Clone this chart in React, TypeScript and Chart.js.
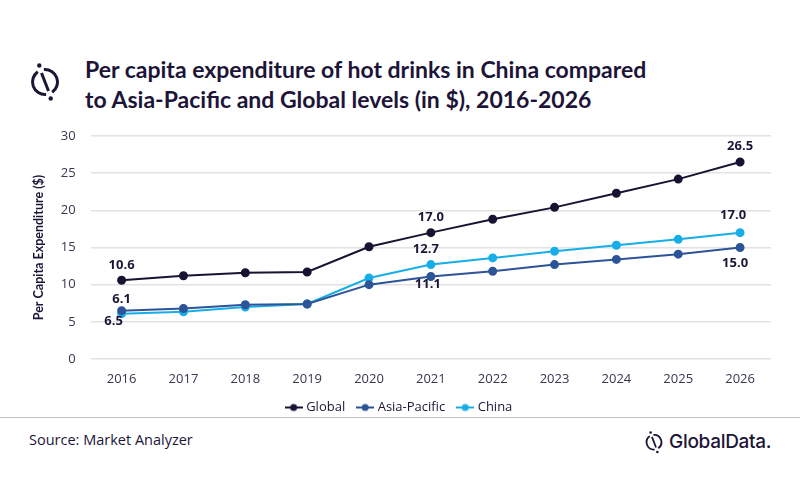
import React, { useEffect, useRef } from "react";
import { Chart, registerables } from "chart.js";

Chart.register(...registerables);

// ---- data ----
const years = ["2016", "2017", "2018", "2019", "2020", "2021", "2022", "2023", "2024", "2025", "2026"];
const seriesNames = ["Global", "Asia-Pacific", "China"];
const globalValues = [10.6, 11.2, 11.6, 11.7, 15.1, 17.0, 18.8, 20.4, 22.3, 24.2, 26.5];
const asiaPacificValues = [6.5, 6.8, 7.3, 7.4, 10.0, 11.1, 11.8, 12.7, 13.4, 14.1, 15.0];
const chinaValues = [6.1, 6.35, 7.0, 7.4, 10.9, 12.7, 13.6, 14.5, 15.3, 16.1, 17.0];
const yMin = 0;
const yMax = 30;
const yStep = 5;
const labelledIndices = [0, 5, 10];

// ---- styles ----
const seriesColors = ["#1a1233", "#2c5497", "#17aee8"];
const textColor = "#1c1538";
const BASE_FONT = "'Open Sans', 'DejaVu Sans', sans-serif";
const TITLE_FONT = "Lato, 'Open Sans', sans-serif";

// label offsets (dx, dy) for each series relative to its point, for the labelled indices
const labelOffsets = [
  [[0, -15], [0, -15], [0, -16]],
  [[-8, 11], [-3, 8], [-5, 16]],
  [[0, -14], [-5, -15], [-7, -17]],
];

const valueLabelPlugin = {
  id: "valueLabels",
  afterDatasetsDraw(chart: any) {
    const ctx = chart.ctx;
    ctx.save();
    ctx.font = `bold 13px ${BASE_FONT}`;
    ctx.fillStyle = textColor;
    ctx.textAlign = "center";
    ctx.textBaseline = "middle";
    chart.data.datasets.forEach((ds: any, di: number) => {
      const meta = chart.getDatasetMeta(di);
      labelledIndices.forEach((idx, k) => {
        const el = meta.data[idx];
        if (!el) return;
        const [dx, dy] = labelOffsets[di][k];
        ctx.fillText(Number(ds.data[idx]).toFixed(1), el.x + dx, el.y + dy);
      });
    });
    ctx.restore();
  },
};

function makeMarker(color: string) {
  const c = document.createElement("canvas");
  c.width = 18;
  c.height = 10;
  const g = c.getContext("2d")!;
  g.strokeStyle = color;
  g.lineWidth = 2;
  g.beginPath();
  g.moveTo(0, 5);
  g.lineTo(18, 5);
  g.stroke();
  g.fillStyle = color;
  g.beginPath();
  g.arc(9, 5, 3.5, 0, Math.PI * 2);
  g.fill();
  return c;
}

function LogoIcon({ width, height, color }: { width: number; height: number; color: string }) {
  return (
    <svg width={width} height={height} viewBox="0 0 30 44" style={{ display: "block" }}>
      <path d="M 13.9 11.55 A 12.5 12.5 0 0 1 22.17 34.24" fill="none" stroke={color} strokeWidth="3" />
      <path d="M 16.09 36.45 A 12.5 12.5 0 0 1 7.83 13.76" fill="none" stroke={color} strokeWidth="3" />
      <line x1="11.5" y1="15" x2="18.5" y2="33" stroke={color} strokeWidth="3" />
      <circle cx="9.3" cy="7.5" r="2.2" fill={color} />
      <circle cx="20.7" cy="40.5" r="2.2" fill={color} />
    </svg>
  );
}

export default function App() {
  const canvasRef = useRef<HTMLCanvasElement | null>(null);

  useEffect(() => {
    if (!canvasRef.current) return;
    const markers = seriesColors.map((c) => makeMarker(c));
    const values = [globalValues, asiaPacificValues, chinaValues];
    const chart = new Chart(canvasRef.current, {
      type: "line",
      data: {
        labels: years,
        datasets: seriesNames.map((name, i) => ({
          label: name,
          data: values[i],
          borderColor: seriesColors[i],
          backgroundColor: seriesColors[i],
          pointBackgroundColor: seriesColors[i],
          pointBorderColor: seriesColors[i],
          pointRadius: 3.5,
          borderWidth: 2,
          tension: 0,
          fill: false,
        })),
      },
      options: {
        animation: false,
        responsive: false,
        maintainAspectRatio: false,
        layout: { padding: { top: 26, right: 29, bottom: 0, left: 29 } },
        plugins: {
          tooltip: { enabled: false },
          title: { display: false },
          legend: {
            position: "bottom",
            labels: {
              usePointStyle: true,
              pointStyleWidth: 12,
              boxHeight: 10,
              padding: 14,
              color: textColor,
              font: { family: BASE_FONT, size: 13 },
              generateLabels: (ch: any) =>
                (Chart.defaults.plugins.legend.labels.generateLabels as any)(ch).map((l: any, i: number) => ({
                  ...l,
                  pointStyle: markers[i],
                })),
            },
          },
        },
        scales: {
          x: {
            offset: true,
            grid: { display: false, drawTicks: false },
            border: { display: false },
            ticks: { color: "#3a3550", padding: 12, font: { family: BASE_FONT, size: 13 } },
            afterFit: (s: any) => {
              s.height = 28;
            },
          },
          y: {
            min: yMin,
            max: yMax,
            grid: { color: "#e2e2e2", lineWidth: 1.5, drawTicks: false },
            border: { display: false },
            ticks: {
              stepSize: yStep,
              color: "#3a3550",
              padding: 15,
              font: { family: BASE_FONT, size: 13 },
            },
            title: {
              display: true,
              text: "Per Capita Expenditure ($)",
              color: textColor,
              font: { family: TITLE_FONT, size: 12.5, weight: "bold" },
              padding: { top: 2, bottom: 0 },
            },
            afterFit: (s: any) => {
              s.width = 61.7;
            },
          },
        },
      },
      plugins: [valueLabelPlugin],
    } as any);
    return () => chart.destroy();
  }, []);

  return (
    <div
      style={{
        position: "absolute",
        left: 0,
        top: 0,
        width: 800,
        height: 500,
        background: "#ffffff",
        overflow: "hidden",
        fontFamily: BASE_FONT,
      }}
    >
      <div style={{ position: "absolute", left: 30, top: 58 }}>
        <LogoIcon width={30} height={44} color={textColor} />
      </div>
      <div
        style={{
          position: "absolute",
          left: 85,
          top: 54,
          fontFamily: TITLE_FONT,
          fontWeight: "bold",
          fontSize: 23,
          lineHeight: "30px",
          color: textColor,
          whiteSpace: "nowrap",
        }}
      >
        Per capita expenditure of hot drinks in China compared
        <br />
        to Asia-Pacific and Global levels (in $), 2016-2026
      </div>
      <canvas
        ref={canvasRef}
        width={800}
        height={314}
        style={{ position: "absolute", left: 0, top: 110, width: 800, height: 314 }}
      />
      <div
        style={{
          position: "absolute",
          left: 0,
          top: 417,
          width: 800,
          height: 0,
          borderTop: "1.5px solid #c4c4c4",
        }}
      />
      <div
        style={{
          position: "absolute",
          left: 29,
          top: 430,
          fontSize: 14.5,
          lineHeight: "20px",
          color: textColor,
          whiteSpace: "nowrap",
        }}
      >
        Source: Market Analyzer
      </div>
      <div
        style={{
          position: "absolute",
          left: 645,
          top: 428,
          display: "flex",
          alignItems: "center",
          gap: 6,
          color: textColor,
        }}
      >
        <LogoIcon width={18} height={26} color={textColor} />
        <span style={{ fontFamily: "Inter, sans-serif", fontSize: 19, fontWeight: 500, letterSpacing: -0.3 }}>
          GlobalData.
        </span>
      </div>
    </div>
  );
}
